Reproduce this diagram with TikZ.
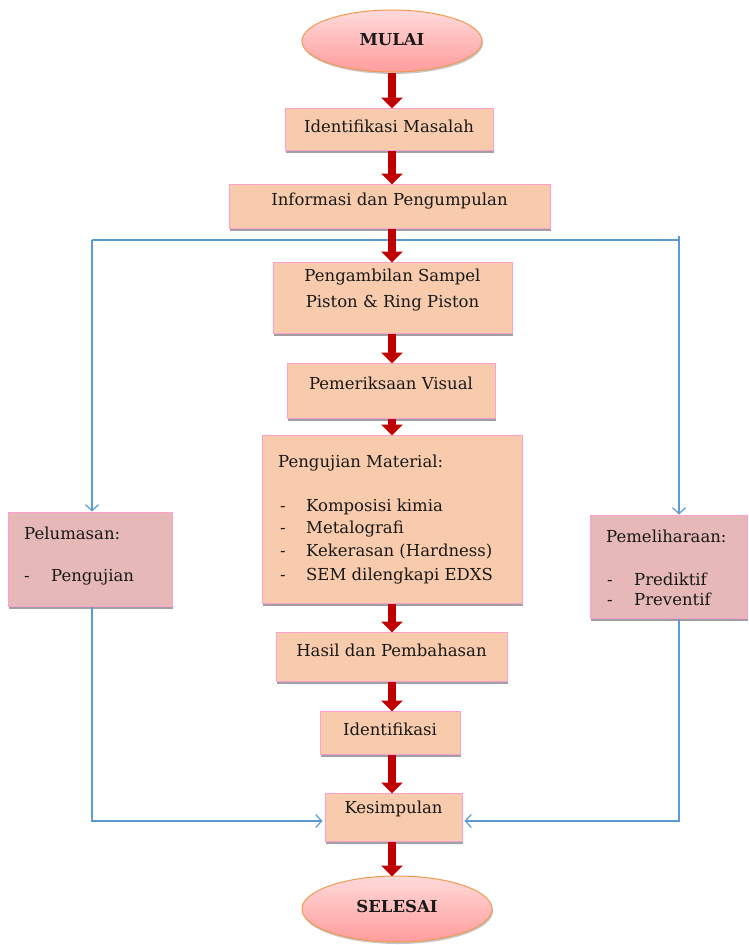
\documentclass[tikz,border=0pt]{standalone}
\usepackage{fontspec}
\setmainfont{DejaVu Serif}
\usetikzlibrary{arrows.meta,shadows,shapes.geometric}
\definecolor{peach}{HTML}{F8CBAD}
\definecolor{pinkb}{HTML}{FF9FCF}
\definecolor{sidefill}{HTML}{E6B8B7}
\definecolor{ovtop}{HTML}{FFDADA}
\definecolor{ovbot}{HTML}{FF9C9C}
\definecolor{ovline}{HTML}{F09A50}
\definecolor{darkred}{HTML}{C00000}
\definecolor{lineblue}{HTML}{5B9BD5}
\definecolor{shadowgray}{HTML}{A0A0A0}
\newcommand{\dashitem}[2]{\makebox[#1][l]{-}#2}
\tikzset{
  x=1pt, y=-1pt,
  stepbox/.style={draw=pinkb, fill=peach, line width=1pt, rectangle, inner sep=0pt,
    drop shadow={shadow xshift=1pt, shadow yshift=-3pt, fill=shadowgray, opacity=1}},
  sidebox/.style={stepbox, fill=sidefill},
  terminal/.style={ellipse, draw=ovline, line width=1pt, top color=ovtop, bottom color=ovbot, inner sep=0pt,
    drop shadow={shadow xshift=1pt, shadow yshift=-2pt, fill=shadowgray, opacity=0.6}},
  lbl/.style={font=\fontsize{16.5}{19}\selectfont, inner sep=0pt, text=black!90},
  lbll/.style={lbl, anchor=west},
  redarrow/.style={draw=darkred, line width=8pt, -{Triangle[width=21pt,length=11pt]}, shorten >=-1pt},
  bluel/.style={draw=lineblue, line width=1.2pt},
  bluearrow/.style={bluel, -{Straight Barb[length=6pt,width=13pt,line width=1.2pt]}},
}
\begin{document}
\begin{tikzpicture}
\useasboundingbox (0,0) rectangle (748,945);
% terminals
\node[terminal, minimum width=180pt, minimum height=62pt] (mulai) at (392,41) {};
\node[lbl, font=\fontsize{16.5}{19}\selectfont\bfseries] (tmulai) at (392,40) {MULAI};
\node[terminal, minimum width=190pt, minimum height=66pt] (selesai) at (397,909) {};
\node[lbl, font=\fontsize{16.5}{19}\selectfont\bfseries] (tselesai) at (397,906) {SELESAI};
% main boxes
\node[stepbox, minimum width=208pt, minimum height=42pt] (idm) at (389,129) {};
\node[lbl] (tidm) at (389,126) {Identifikasi Masalah};
\node[stepbox, minimum width=321pt, minimum height=44pt] (info) at (389.5,206) {};
\node[lbl] (tinfo) at (389.5,201) {Informasi dan Pengumpulan};
\node[stepbox, minimum width=239pt, minimum height=71pt] (samp) at (392.5,297.5) {};
\node[lbl] (tsamp1) at (392.5,277) {Pengambilan Sampel};
\node[lbl] (tsamp2) at (392.5,303) {Piston \& Ring Piston};
\node[stepbox, minimum width=208pt, minimum height=55pt] (vis) at (391,390.5) {};
\node[lbl] (tvis) at (391,383) {Pemeriksaan Visual};
\node[stepbox, minimum width=260pt, minimum height=168pt] (mat) at (392,519) {};
\node[lbll] (tmat) at (278,463) {Pengujian Material:};
\node[lbll] (m1) at (280,507) {\dashitem{26pt}{Komposisi kimia}};
\node[lbll] (m2) at (280,529) {\dashitem{26pt}{Metalografi}};
\node[lbll] (m3) at (280,552) {\dashitem{26pt}{Kekerasan (Hardness)}};
\node[lbll] (m4) at (280,576) {\dashitem{26pt}{SEM dilengkapi EDXS}};
\node[stepbox, minimum width=231pt, minimum height=49pt] (hasil) at (391.5,656.5) {};
\node[lbl] (thasil) at (391.5,650) {Hasil dan Pembahasan};
\node[stepbox, minimum width=140pt, minimum height=43pt] (ident) at (390,732.5) {};
\node[lbl] (tident) at (390,729) {Identifikasi};
\node[stepbox, minimum width=137pt, minimum height=48pt] (kes) at (393.5,817) {};
\node[lbl] (tkes) at (393.5,809) {Kesimpulan};
% side boxes
\node[sidebox, minimum width=164pt, minimum height=94pt] (pel) at (90,559) {};
\node[lbll] (tpel) at (24,533) {Pelumasan:};
\node[lbll] (tpel1) at (24,577) {\dashitem{27pt}{Pengujian}};
\node[sidebox, minimum width=157pt, minimum height=103pt] (pem) at (668.5,566.5) {};
\node[lbll] (tpem) at (606,536) {Pemeliharaan:};
\node[lbll] (tpem1) at (607,579) {\dashitem{27pt}{Prediktif}};
\node[lbll] (tpem2) at (607,599) {\dashitem{27pt}{Preventif}};
% blue connectors
\coordinate (tl) at (92,240);
\coordinate (tr) at (679,240);
\coordinate (bl) at (92,821);
\coordinate (br) at (679,821);
\draw[bluel] (tl) -- (tr);
\draw[bluel] (tr) -- ++(0,-4);
\draw[bluearrow] (tl) -- (tl |- pel.north);
\draw[bluearrow] (tr) -- (tr |- pem.north);
\draw[bluearrow] (tl |- pel.south) -- (bl) -- ([xshift=-2pt]bl -| kes.west);
\draw[bluearrow] (tr |- pem.south) -- (br) -- ([xshift=2pt]br -| kes.east);
% red arrows
\coordinate (cx) at (392,0);
\draw[redarrow] (cx |- mulai.south) -- (cx |- idm.north);
\draw[redarrow] (cx |- idm.south) -- (cx |- info.north);
\draw[redarrow] (cx |- info.south) -- (cx |- samp.north);
\draw[redarrow] (cx |- samp.south) -- (cx |- vis.north);
\draw[redarrow] (cx |- vis.south) -- (cx |- mat.north);
\draw[redarrow] (cx |- mat.south) -- (cx |- hasil.north);
\draw[redarrow] (cx |- hasil.south) -- (cx |- ident.north);
\draw[redarrow] (cx |- ident.south) -- (cx |- kes.north);
\draw[redarrow] (cx |- kes.south) -- (cx |- selesai.north);
\end{tikzpicture}
\end{document}
